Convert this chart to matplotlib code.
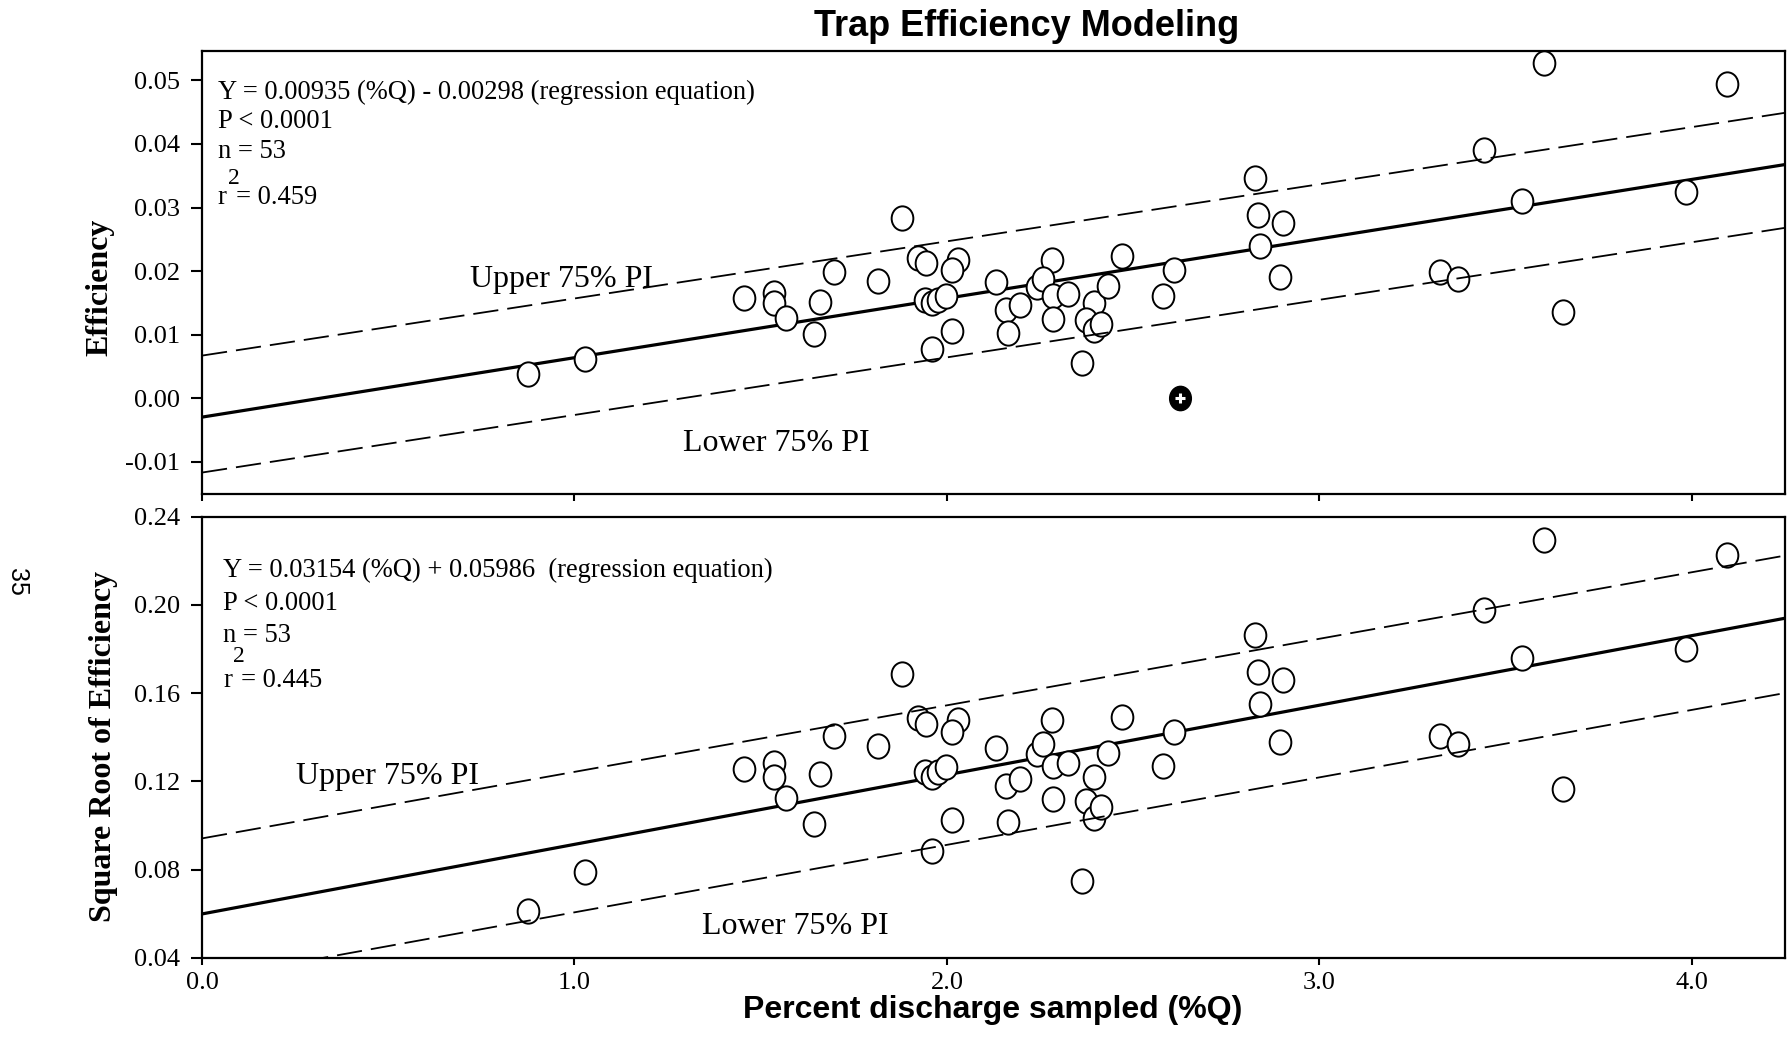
import numpy as np
import matplotlib.pyplot as plt
from matplotlib.path import Path

plt.rcParams['axes.unicode_minus'] = False

# Percent discharge sampled (%Q) and trap efficiency for the 53 samples
pct_q = [0.875, 1.028, 1.455, 1.535, 1.535, 1.567, 1.659, 1.642, 1.697,
         1.878, 1.814, 1.923, 1.943, 2.029, 2.013, 1.941, 1.961, 1.977, 1.997,
         2.014, 1.959, 2.132, 2.159, 2.196, 2.163, 2.281, 2.243, 2.257, 2.286,
         2.326, 2.286, 2.362, 2.394, 2.373, 2.395, 2.413, 2.432, 2.470, 2.581,
         2.609, 3.603, 4.094, 3.442, 2.827, 2.835, 2.902, 2.841, 2.895, 3.544,
         3.984, 3.324, 3.372, 3.653]
efficiency = [0.00374, 0.0062, 0.0158, 0.0165, 0.0149, 0.0126, 0.0152, 0.0101, 0.0198,
              0.0284, 0.0185, 0.0221, 0.0213, 0.0218, 0.0202, 0.0154, 0.0149, 0.0154, 0.0160,
              0.0105, 0.0078, 0.0183, 0.0139, 0.0147, 0.0103, 0.0218, 0.0175, 0.0187, 0.0161,
              0.0164, 0.0125, 0.0056, 0.0149, 0.0123, 0.0107, 0.0117, 0.0176, 0.0223, 0.0161,
              0.0202, 0.0527, 0.0495, 0.0390, 0.0347, 0.0288, 0.0275, 0.0240, 0.0190, 0.0310,
              0.0324, 0.0198, 0.0187, 0.0136]
sqrt_eff = np.sqrt(efficiency)

# excluded sample (filled symbol, top panel only)
outlier_q = [2.626]
outlier_eff = [0.0]

# regression equations from the panels
top_slope, top_icept = 0.00935, -0.00298
bot_slope, bot_icept = 0.03154, 0.05986

# 75% prediction interval end points (at x = 0 and x = 4.25)
pi_x = [0.0, 4.25]
top_upper = [0.0067, 0.0449]
top_lower = [-0.0117, 0.0268]
bot_upper = [0.0941, 0.2223]
bot_lower = [0.0300, 0.1600]

x_ticks = [0.0, 1.0, 2.0, 3.0, 4.0]
x_labels = ['0.0', '1.0', '2.0', '3.0', '4.0']
top_yticks = [-0.01, 0.0, 0.01, 0.02, 0.03, 0.04, 0.05]
top_ylabels = ['-0.01', '0.00', '0.01', '0.02', '0.03', '0.04', '0.05']
bot_yticks = [0.04, 0.08, 0.12, 0.16, 0.20, 0.24]
bot_ylabels = ['0.04', '0.08', '0.12', '0.16', '0.20', '0.24']

serif = 'Liberation Serif'
sans = 'Liberation Sans'

# slightly tall ellipse, like the original symbols
uc = Path.unit_circle()
oval = Path(uc.vertices * [1.0, 1.12], uc.codes)

fig = plt.figure(figsize=(17.88, 10.57), dpi=100)
ax1 = fig.add_axes([0.1130, 0.5331, 0.8853, 0.4191])
ax2 = fig.add_axes([0.1130, 0.0939, 0.8853, 0.4174])


def draw_panel(ax, y, slope, icept, upper, lower, ylim, yticks, ylabels):
    xl = np.array(pi_x)
    ax.plot(xl, slope * xl + icept, color='black', lw=2.3, zorder=2)
    ax.plot(pct_q, y, ls='none', marker=oval, ms=17.5, mfc='white', mec='black',
            mew=1.4, zorder=3)
    for band in (upper, lower):
        ax.plot(pi_x, band, color='black', lw=1.3, dashes=(14, 5), zorder=4)
    ax.set_xlim(0, 4.25)
    ax.set_ylim(*ylim)
    ax.set_yticks(yticks)
    ax.set_yticklabels(ylabels)
    ax.set_xticks(x_ticks)
    for s in ax.spines.values():
        s.set_linewidth(1.6)
    ax.tick_params(axis='y', direction='out', length=8, width=1.5, pad=8,
                   labelsize=19)
    ax.tick_params(axis='x', direction='out', length=5, width=1.5, pad=5,
                   labelsize=19)
    for lab in ax.get_xticklabels() + ax.get_yticklabels():
        lab.set_family(serif)


draw_panel(ax1, efficiency, top_slope, top_icept, top_upper, top_lower,
           (-0.0150, 0.0547), top_yticks, top_ylabels)
ax1.set_xticklabels([])
ax1.plot(outlier_q, outlier_eff, ls='none', marker=oval, ms=17.5, mfc='black',
         mec='black', zorder=5)
ax1.plot(outlier_q, outlier_eff, '+', ms=7, mec='white', mew=2.2, zorder=6)

draw_panel(ax2, sqrt_eff, bot_slope, bot_icept, bot_upper, bot_lower,
           (0.04, 0.24), bot_yticks, bot_ylabels)
ax2.set_xticklabels(x_labels)
for lab in ax2.get_xticklabels():
    lab.set_family(serif)

# statistics text
tsz = 19.1
stats = [
    (ax1, ['Y = 0.00935 (%Q) - 0.00298 (regression equation)', 'P < 0.0001', 'n = 53'],
     [0.906, 0.839, 0.771], 0.669, 0.712, '= 0.459', 0.010),
    (ax2, ['Y = 0.03154 (%Q) + 0.05986  (regression equation)', 'P < 0.0001', 'n = 53'],
     [0.877, 0.803, 0.730], 0.628, 0.682, '= 0.445', 0.0133),
]
for ax, lines, ys, yr, ysup, rval, x0 in stats:
    for txt, yy in zip(lines, ys):
        ax.text(x0, yy, txt, transform=ax.transAxes, family=serif, size=tsz,
                va='center', ha='left')
    ax.text(x0, yr, 'r', transform=ax.transAxes, family=serif, size=tsz,
            va='center', ha='left')
    ax.text(x0 + 0.0062, ysup, '2', transform=ax.transAxes, family=serif, size=17,
            va='center', ha='left')
    ax.text(x0 + 0.0112, yr, rval, transform=ax.transAxes, family=serif, size=tsz,
            va='center', ha='left')

ax1.text(0.72, 0.0186, 'Upper 75% PI', family=serif, size=23, va='center', ha='left')
ax1.text(1.29, -0.0071, 'Lower 75% PI', family=serif, size=23, va='center', ha='left')
ax2.text(0.253, 0.1222, 'Upper 75% PI', family=serif, size=23, va='center', ha='left')
ax2.text(1.342, 0.054, 'Lower 75% PI', family=serif, size=23, va='center', ha='left')

fig.text(100 / 1788, 1 - 287 / 1057, 'Efficiency', rotation=90, family=serif,
         weight='bold', size=23, ha='center', va='center')
fig.text(104 / 1788, 1 - 746 / 1057, 'Square Root of Efficiency', rotation=90,
         family=serif, weight='bold', size=23, ha='center', va='center')
fig.text(1027 / 1788, 1 - 27 / 1057, 'Trap Efficiency Modeling', family=sans,
         weight='bold', size=26, ha='center', va='center')
fig.text(993 / 1788, 1 - 1010 / 1057, 'Percent discharge sampled (%Q)', family=sans,
         weight='bold', size=23, ha='center', va='center')
fig.text(17 / 1788, 1 - 582 / 1057, '35', rotation=-90, family=sans, size=18,
         ha='center', va='center')

fig.savefig('out.png', dpi=100)
